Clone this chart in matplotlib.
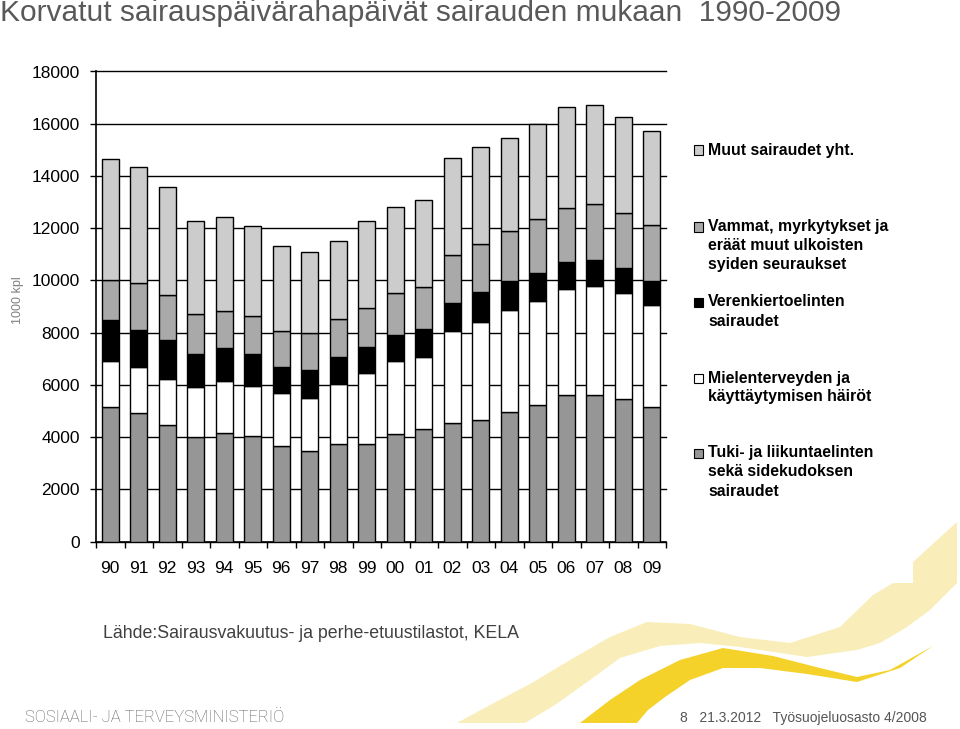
import matplotlib
matplotlib.use("Agg")
import matplotlib.pyplot as plt
import numpy as np
from matplotlib.patches import Rectangle, Polygon

years = ["90", "91", "92", "93", "94", "95", "96", "97", "98", "99",
         "00", "01", "02", "03", "04", "05", "06", "07", "08", "09"]

tuki = [5150, 4940, 4450, 4000, 4140, 4050, 3670, 3460, 3720, 3720,
        4100, 4320, 4550, 4640, 4970, 5230, 5620, 5620, 5450, 5170]
mieli = [1750, 1750, 1770, 1900, 1990, 1910, 2010, 2050, 2330, 2720,
         2800, 2730, 3530, 3780, 3880, 3990, 4060, 4180, 4060, 3870]
veren = [1590, 1410, 1500, 1280, 1280, 1220, 990, 1050, 1000, 1000,
         1010, 1070, 1050, 1120, 1120, 1080, 1020, 1000, 960, 930]
vammat = [1540, 1800, 1730, 1540, 1410, 1460, 1380, 1410, 1460, 1500,
          1600, 1620, 1860, 1870, 1920, 2060, 2080, 2140, 2120, 2160]
muut = [4620, 4460, 4110, 3540, 3620, 3450, 3260, 3120, 3000, 3320,
        3300, 3320, 3710, 3680, 3560, 3640, 3860, 3790, 3670, 3590]

series = [tuki, mieli, veren, vammat, muut]
colors = ["#969696", "#FFFFFF", "#000000", "#A9A9A9", "#CCCCCC"]
legend_labels = [
    ["Tuki- ja liikuntaelinten", "sekä sidekudoksen", "sairaudet"],
    ["Mielenterveyden ja", "käyttäytymisen häiröt"],
    ["Verenkiertoelinten", "sairaudet"],
    ["Vammat, myrkytykset ja", "eräät muut ulkoisten", "syiden seuraukset"],
    ["Muut sairaudet yht."],
]
legend_y = [[453, 472, 491], [378, 397], [302, 321], [227, 246, 265], [150]]

title = "Korvatut sairauspäivärahapäivät sairauden mukaan  1990-2009"
source = "Lähde:Sairausvakuutus- ja perhe-etuustilastot, KELA"
footer_left = "SOSIAALI- JA TERVEYSMINISTERIÖ"
footer_right = "8   21.3.2012   Työsuojeluosasto 4/2008"
ylabel = "1000 kpl"
yticks = [0, 2000, 4000, 6000, 8000, 10000, 12000, 14000, 16000, 18000]

plt.rcParams['font.family'] = ['Liberation Sans', 'DejaVu Sans']

W, H = 960, 729
fig = plt.figure(figsize=(W / 100, H / 100), dpi=100)


def fx(x):
    return x / W


def fy(y):
    return 1 - y / H


# decorative swooshes (behind everything)
light_pts = [(457, 723), (490, 705), (530, 684), (570, 660), (610, 637), (647, 622),
             (690, 624), (740, 637), (790, 643), (840, 627), (873, 595), (893, 583),
             (913, 583), (913, 562), (957, 522), (957, 583), (930, 610), (907, 627),
             (880, 643), (857, 650), (807, 657), (740, 647), (700, 643), (660, 646),
             (620, 658), (590, 680), (555, 705), (525, 723)]
dark_pts = [(580, 723), (610, 700), (640, 680), (680, 660), (723, 648), (773, 656),
            (820, 668), (857, 677), (890, 670), (933, 646), (900, 668), (857, 682),
            (807, 674), (760, 668), (723, 668), (690, 680), (665, 697), (648, 710),
            (637, 723)]
fig.add_artist(Polygon([(fx(x), fy(y)) for x, y in light_pts], closed=True,
                       transform=fig.transFigure, facecolor="#F9EEB9", edgecolor="none", zorder=0))
fig.add_artist(Polygon([(fx(x), fy(y)) for x, y in dark_pts], closed=True,
                       transform=fig.transFigure, facecolor="#F4D22A", edgecolor="none", zorder=0))

ax_left, ax_right, ax_bottom, ax_top = 96, 666, 541.5, 71.5
ax = fig.add_axes([fx(ax_left), fy(ax_bottom), fx(ax_right - ax_left), (ax_bottom - ax_top) / H])
ax.patch.set_alpha(0)

x = np.arange(len(years))
bottom = np.zeros(len(years))
for vals, c in zip(series, colors):
    ax.bar(x, vals, width=0.58, bottom=bottom, color=c, edgecolor="black",
           linewidth=1.0, zorder=3)
    bottom += np.array(vals)

ax.set_xlim(-0.5, len(years) - 0.5)
ax.set_ylim(0, 18000)
ax.set_yticks(yticks)
ax.set_yticklabels([str(v) for v in yticks], fontsize=12.5)
ax.yaxis.grid(True, color="#000000", linewidth=1.0, zorder=0)
for gl in ax.get_ygridlines():
    gl.set_clip_on(False)
ax.set_axisbelow(True)
ax.set_xticks(x)
ax.set_xticklabels(years, fontsize=12.5)
ax.set_xticks(np.arange(-0.5, len(years), 1.0), minor=True)
ax.tick_params(axis="x", which="major", length=0, pad=14)
ax.tick_params(axis="x", which="minor", length=4.5, width=1.0, direction="out")
ax.tick_params(axis="y", which="major", length=4.5, width=1.0, direction="out", pad=7)
for s in ["top", "right"]:
    ax.spines[s].set_visible(False)
for s in ["left", "bottom"]:
    ax.spines[s].set_linewidth(1.2)

fig.text(fx(18), fy(300), ylabel, rotation=90, fontsize=9, color="#808080",
         ha="center", va="center")

# title
fig.text(fx(0), fy(13), title, fontsize=21.5, color="#595959", ha="left", va="center")

# legend
for lines, ys, c in zip(legend_labels, legend_y, colors):
    fig.add_artist(Rectangle((fx(694), fy(ys[0] + 4.5)), fx(9), 9 / H, transform=fig.transFigure,
                             facecolor=c, edgecolor="black", linewidth=0.8))
    for t, yy in zip(lines, ys):
        fig.text(fx(708), fy(yy), t, fontsize=11.4, fontweight="bold", color="#000000",
                 ha="left", va="center")

# source
fig.text(fx(103), fy(633), source, fontsize=12.8, color="#404040", ha="left", va="center")

# footer
fig.text(fx(25), fy(717), footer_left, fontsize=12, color="#5E5E5E", ha="left",
         va="center", family=["Roboto", "DejaVu Sans"], fontweight="light")
fig.text(fx(927), fy(718), footer_right, fontsize=10, color="#555555", ha="right", va="center")

fig.savefig("out.png", dpi=100)
